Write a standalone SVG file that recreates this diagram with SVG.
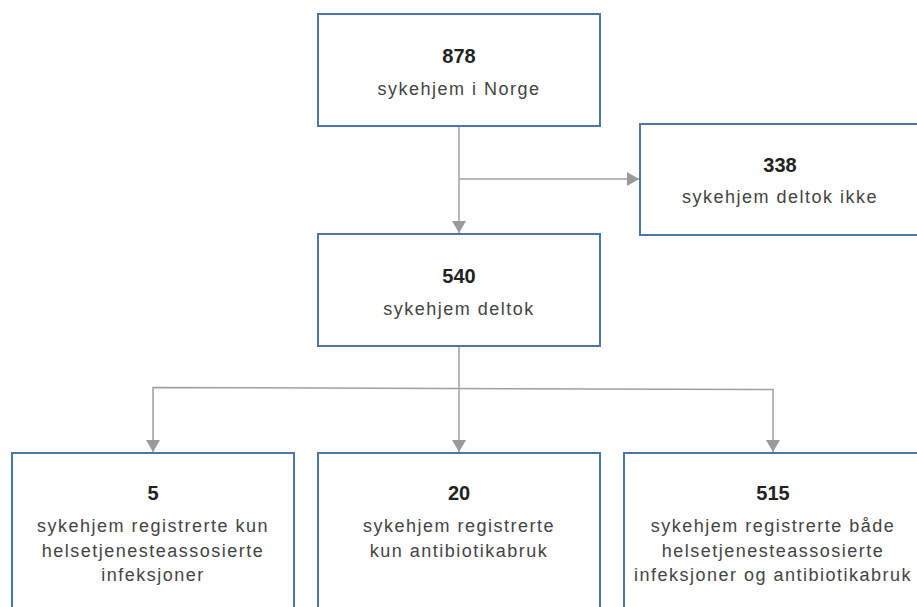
<svg xmlns="http://www.w3.org/2000/svg" width="917" height="607" viewBox="0 0 917 607">
<style>
.box{fill:#fff;stroke:#4a77a8;stroke-width:2}
.num{font-family:"Liberation Sans",Arial,sans-serif;font-size:20px;font-weight:bold;fill:#222;text-anchor:middle}
.lbl{font-family:"Liberation Sans",Arial,sans-serif;font-size:18px;fill:#444;text-anchor:middle;letter-spacing:1.5px}
.con{fill:none;stroke:#a0a0a2;stroke-width:1.5}
</style>
<defs>
<marker id="arr" viewBox="0 0 12 14" refX="12" refY="7" markerWidth="12" markerHeight="14" markerUnits="userSpaceOnUse" orient="auto">
<path d="M0,0 L12,7 L0,14 Z" fill="#9a9a9c"/>
</marker>
</defs>
<rect width="917" height="607" fill="#fff"/>
<g id="connectors">
<line class="con" x1="459" y1="126" x2="459" y2="233" marker-end="url(#arr)"/>
<line class="con" x1="459" y1="179" x2="639" y2="179" marker-end="url(#arr)"/>
<line class="con" x1="459" y1="346" x2="459" y2="452" marker-end="url(#arr)"/>
<polyline class="con" points="153,400 153,387.5 773,389.5 773,452" marker-end="url(#arr)"/>
<line class="con" x1="153" y1="400" x2="153" y2="452" marker-end="url(#arr)"/>
</g>
<g id="n878">
<rect class="box" x="318" y="14" width="282" height="112"/>
<text class="num" x="459" y="63">878</text>
<text class="lbl" x="459" y="95">sykehjem i Norge</text>
</g>
<g id="n338">
<rect class="box" x="640" y="124" width="282" height="111"/>
<text class="num" x="780" y="172">338</text>
<text class="lbl" x="780" y="203">sykehjem deltok ikke</text>
</g>
<g id="n540">
<rect class="box" x="318" y="234" width="282" height="112"/>
<text class="num" x="459" y="283">540</text>
<text class="lbl" x="459" y="315">sykehjem deltok</text>
</g>
<g id="n5">
<rect class="box" x="12" y="453" width="282" height="170"/>
<text class="num" x="153" y="500">5</text>
<text class="lbl" x="153" y="532">sykehjem registrerte kun</text>
<text class="lbl" x="153" y="557">helsetjenesteassosierte</text>
<text class="lbl" x="153" y="581">infeksjoner</text>
</g>
<g id="n20">
<rect class="box" x="318" y="453" width="282" height="170"/>
<text class="num" x="459" y="500">20</text>
<text class="lbl" x="459" y="532">sykehjem registrerte</text>
<text class="lbl" x="459" y="557">kun antibiotikabruk</text>
</g>
<g id="n515">
<rect class="box" x="624" y="453" width="298" height="170"/>
<text class="num" x="773" y="500">515</text>
<text class="lbl" x="773" y="532">sykehjem registrerte både</text>
<text class="lbl" x="773" y="557">helsetjenesteassosierte</text>
<text class="lbl" x="773" y="581">infeksjoner og antibiotikabruk</text>
</g>
</svg>
